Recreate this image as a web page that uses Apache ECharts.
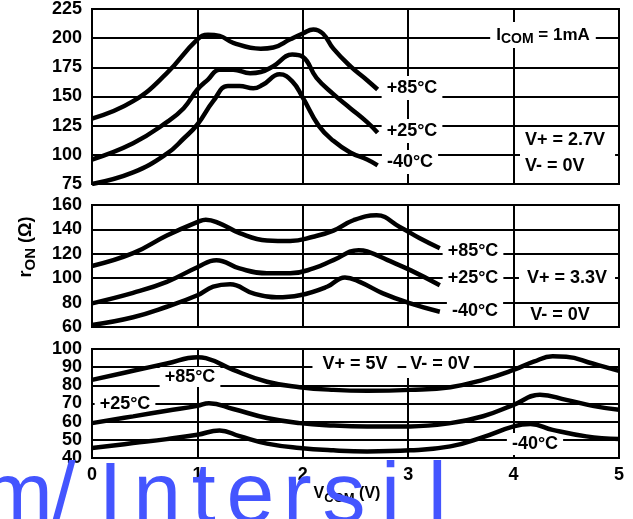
<!DOCTYPE html>
<html>
<head>
<meta charset="utf-8">
<script src="https://cdn.jsdelivr.net/npm/echarts@6/dist/echarts.min.js"></script>
<style>html,body{margin:0;padding:0;background:#fff}#c{width:633px;height:519px}</style>
</head>
<body>
<div id="c"></div>
<script>
// ---- Data: [V_COM (V), r_ON (ohm)] ----
// Panel 1: V+ = 2.7V
const p1_85 = [[0,131],[0.39,146],[0.71,170],[1,199],[1.1,203],[1.21,202],[1.34,196],[1.6,191],[1.72,192],[1.88,199],[2,204],[2.1,207.5],[2.19,204],[2.29,191],[2.45,176],[2.61,164],[2.71,156]];
const p1_25 = [[0,96],[0.39,110],[0.71,128],[0.87,140],[1,156],[1.1,164.5],[1.21,173],[1.34,173],[1.5,170],[1.6,171],[1.72,176],[1.9,186],[2,184],[2.13,166],[2.29,152],[2.45,140],[2.61,128],[2.71,119]];
const p1_m40 = [[0,75],[0.39,85],[0.71,101],[0.87,114],[1,126],[1.15,146],[1.29,159],[1.4,159],[1.53,157],[1.62,160],[1.78,169],[1.9,163],[2,149],[2.15,125],[2.29,112],[2.45,102],[2.61,96],[2.71,91]];
// Panel 2: V+ = 3.3V
const p2_85 = [[0,110],[0.39,120.5],[0.71,135],[1,146],[1.08,148],[1.21,145],[1.4,137],[1.66,131],[1.88,130.5],[2.1,134],[2.29,139],[2.48,147.5],[2.7,151.5],[2.92,142],[3.11,132.7],[3.3,124.5]];
const p2_25 = [[0,79.4],[0.39,88],[0.71,97],[1,109],[1.18,114.8],[1.4,108],[1.66,104],[1.88,104],[2.1,108],[2.29,114.8],[2.53,123],[2.61,122],[2.8,115],[3.02,106.6],[3.3,94.3]];
const p2_m40 = [[0,61.6],[0.39,68],[0.71,76.6],[1,86],[1.15,93],[1.31,95],[1.53,87.6],[1.75,84.3],[1.97,86],[2.23,93],[2.4,100.6],[2.54,97],[2.76,87.6],[3.02,79.4],[3.3,72.5]];
// Panel 3: V+ = 5V
const p3_85 = [[0,83],[0.39,88],[0.71,92],[1,95.5],[1.08,95],[1.34,88.5],[1.66,82],[1.97,79],[2.29,77.5],[2.61,77],[3.02,77.5],[3.4,79],[3.71,83],[4,88.5],[4.19,93],[4.37,96],[4.5,95.8],[4.75,92],[5,88]];
const p3_25 = [[0,59.2],[0.39,62.9],[0.71,66],[1,68.7],[1.11,70.2],[1.34,67],[1.66,62],[1.97,59.2],[2.29,57.9],[2.61,57.4],[3.02,57.4],[3.4,59.2],[3.71,63],[4,69.3],[4.25,74.8],[4.5,72],[4.75,68.7],[5,66.5]];
const p3_m40 = [[0,45.5],[0.39,48.2],[0.71,50.4],[1,52.8],[1.21,55.2],[1.4,52],[1.66,47.9],[1.97,45.5],[2.29,44.2],[2.61,43.6],[3.02,44.2],[3.4,46.4],[3.71,51.5],[4,57.4],[4.16,58.7],[4.37,55.5],[4.69,51.9],[5,50.4]];

const yRanges = [[75,225,25],[60,160,20],[40,100,10]];
const xRange = [0,5,1];
const watermark = 'm/Intersil';

const FONT = "'Liberation Sans', Arial, Helvetica, sans-serif";
const chart = echarts.init(document.getElementById('c'));

const gridsPos = [
  {left:92, top:7, width:527, height:177},
  {left:92, top:205, width:527, height:122},
  {left:92, top:349, width:527, height:109}
];
const lineSty = {color:'#000', width:2};
const grid = gridsPos.map(g => Object.assign({show:true, borderColor:'#000', borderWidth:2, backgroundColor:'transparent'}, g));
const xAxis = gridsPos.map((g,i) => ({
  gridIndex:i, type:'value', min:xRange[0], max:xRange[1], interval:xRange[2],
  axisLine:{show:false}, axisTick:{show:false},
  splitLine:{show:true, lineStyle:lineSty},
  axisLabel:{show:i===2, color:'#000', fontWeight:'bold', fontSize:18, fontFamily:FONT, margin:8}
}));
const yAxis = yRanges.map((r,i) => ({
  gridIndex:i, type:'value', min:r[0], max:r[1], interval:r[2],
  axisLine:{show:false}, axisTick:{show:false},
  splitLine:{show:true, lineStyle:lineSty},
  axisLabel:{color:'#000', fontWeight:'bold', fontSize:18, fontFamily:FONT, margin:10}
}));
const curves = [[p1_85,p1_25,p1_m40],[p2_85,p2_25,p2_m40],[p3_85,p3_25,p3_m40]];
const series = [];
curves.forEach((set,i) => set.forEach(d => series.push({
  type:'line', xAxisIndex:i, yAxisIndex:i, data:d, symbol:'none', smooth:0.45,
  lineStyle:{color:'#000', width:4.5}, z:3, silent:true
})));

const subRich = (fs) => ({s:{fontSize:fs, fontWeight:'bold', fontFamily:FONT, fill:'#000', padding:[Math.round(fs*0.6),0,0,0]}});
function lbl(text, x, y, opt) {
  opt = opt || {};
  return {type:'text', x:x, y:y, z:opt.z || 2, rotation:opt.rotation || 0,
    style:{text:text, fill:'#000', fontSize:opt.fs || 18, fontWeight:'bold', fontFamily:FONT,
      align:opt.align || 'center', verticalAlign:'middle',
      backgroundColor:opt.bg === false ? null : '#fff', padding:opt.pad || [3,4],
      lineHeight:opt.lh, rich:opt.rich}};
}
const graphics = [
  lbl('I{s|COM} = 1mA', 543, 35, {fs:17, rich:subRich(14), pad:[2,6]}),
  lbl('+85°C', 412, 88, {pad:[3,5]}),
  lbl('+25°C', 412, 131, {pad:[3,5]}),
  lbl('-40°C', 410, 162, {pad:[3,5]}),
  lbl('V+ = 2.7V\nV- = 0V', 520, 153, {align:'left', lh:26, pad:[0,10,0,5]}),
  lbl('+85°C', 473, 251, {pad:[3,5]}),
  lbl('+25°C', 473, 278, {pad:[3,5]}),
  lbl('-40°C', 475, 311, {pad:[3,5]}),
  lbl('V+ = 3.3V', 567, 278, {pad:[3,8]}),
  lbl('V- = 0V', 560, 315, {pad:[2,6]}),
  lbl('+85°C', 190, 377, {pad:[1,5]}),
  lbl('+25°C', 125, 404, {pad:[2,5]}),
  lbl('V+ = 5V', 355, 364, {pad:[4,10]}),
  lbl('V- = 0V', 440, 364, {pad:[5,4]}),
  lbl('-40°C', 535, 444, {pad:[2,5]}),
  lbl('r{s|ON} (Ω)', 26, 247, {fs:18, rotation:Math.PI/2, bg:false, pad:0, rich:subRich(15)}),
  lbl('V{s|COM} (V)', 347, 494, {fs:16, bg:false, pad:0, rich:subRich(13)})
];
// watermark, one glyph per fixed-width cell
watermark.split('').forEach((ch,i) => graphics.push({
  type:'text', x:17 + 46.7*i, y:498, z:100,
  style:{text:ch, fill:'#4455ff', fontSize:86, fontWeight:'normal', fontFamily:FONT, align:'center', verticalAlign:'middle'}
}));

chart.setOption({
  animation:false,
  backgroundColor:'#fff',
  grid:grid, xAxis:xAxis, yAxis:yAxis, series:series,
  graphic:{elements:graphics}
});
</script>
</body>
</html>
